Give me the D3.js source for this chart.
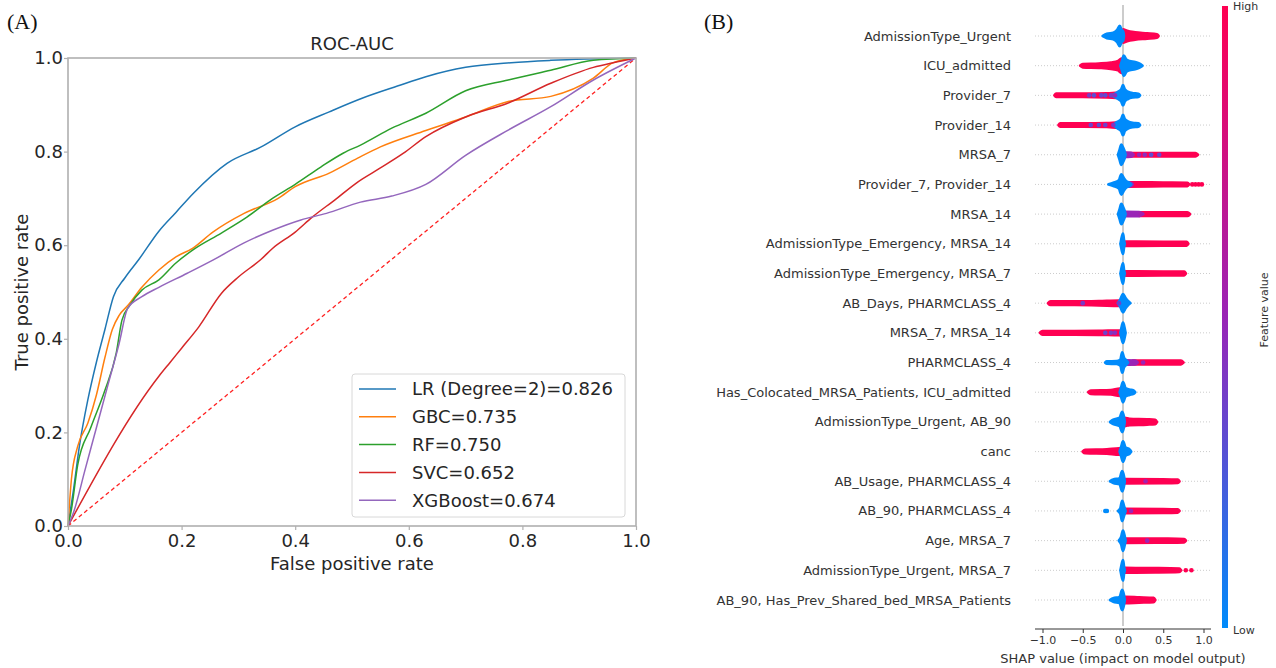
<!DOCTYPE html>
<html>
<head>
<meta charset="utf-8">
<script src="https://cdn.jsdelivr.net/npm/d3@7"></script>
<style>
  body { margin: 0; background: #fff; }
  svg { display: block; font-family: "DejaVu Sans", sans-serif; }
</style>
</head>
<body>
<div id="chart"></div>
<script>
// ---- panel A data: ROC curves [fpr, tpr]
const rocLR = [[0,0],[0.01,0.08],[0.02,0.17],[0.035,0.27],[0.05,0.35],[0.065,0.42],[0.08,0.49],[0.1,0.53],[0.125,0.57],[0.16,0.63],[0.19,0.67],[0.22,0.71],[0.28,0.775],[0.34,0.81],[0.4,0.853],[0.46,0.885],[0.52,0.915],[0.58,0.94],[0.63,0.96],[0.7,0.98],[0.78,0.99],[0.85,0.995],[1,1]]
const rocGBC = [[0,0],[0.006,0.1],[0.017,0.17],[0.035,0.22],[0.05,0.28],[0.065,0.36],[0.078,0.42],[0.09,0.45],[0.106,0.472],[0.13,0.51],[0.16,0.547],[0.19,0.575],[0.22,0.594],[0.255,0.628],[0.31,0.668],[0.37,0.7],[0.4,0.725],[0.46,0.754],[0.51,0.786],[0.55,0.81],[0.63,0.845],[0.7,0.874],[0.775,0.907],[0.85,0.918],[0.925,0.957],[0.96,0.99],[1,1]]
const rocRF = [[0,0],[0.006,0.035],[0.017,0.13],[0.04,0.21],[0.065,0.29],[0.085,0.37],[0.095,0.44],[0.109,0.472],[0.13,0.504],[0.16,0.526],[0.19,0.562],[0.22,0.59],[0.27,0.626],[0.315,0.66],[0.36,0.7],[0.4,0.73],[0.445,0.767],[0.485,0.797],[0.515,0.814],[0.57,0.85],[0.63,0.882],[0.7,0.93],[0.775,0.953],[0.85,0.974],[0.925,0.995],[1,1]]
const rocSVC = [[0,0],[0.16,0.32],[0.18,0.35],[0.2,0.38],[0.23,0.425],[0.27,0.497],[0.3,0.532],[0.34,0.57],[0.36,0.593],[0.4,0.628],[0.43,0.66],[0.47,0.697],[0.51,0.735],[0.55,0.765],[0.59,0.796],[0.63,0.832],[0.7,0.874],[0.775,0.904],[0.85,0.946],[0.925,0.98],[0.96,0.99],[1,1]]
const rocXGB = [[0,0],[0.01,0.03],[0.03,0.12],[0.05,0.21],[0.07,0.3],[0.09,0.39],[0.105,0.465],[0.13,0.49],[0.16,0.51],[0.21,0.54],[0.255,0.568],[0.31,0.605],[0.36,0.632],[0.41,0.654],[0.455,0.668],[0.515,0.692],[0.57,0.705],[0.63,0.73],[0.7,0.792],[0.775,0.846],[0.85,0.896],[0.925,0.953],[1,1]]
const modelNames = ['LR (Degree=2)=0.826', 'GBC=0.735', 'RF=0.750', 'SVC=0.652', 'XGBoost=0.674']
const modelColors = ['#1f77b4', '#ff7f0e', '#2ca02c', '#d62728', '#9467bd']
const rateTicks = [0, 0.2, 0.4, 0.6, 0.8, 1.0]

// ---- panel B data: SHAP summary, one entry per feature
const features = ['AdmissionType_Urgent', 'ICU_admitted', 'Provider_7', 'Provider_14', 'MRSA_7',
  'Provider_7, Provider_14', 'MRSA_14', 'AdmissionType_Emergency, MRSA_14', 'AdmissionType_Emergency, MRSA_7',
  'AB_Days, PHARMCLASS_4', 'MRSA_7, MRSA_14', 'PHARMCLASS_4', 'Has_Colocated_MRSA_Patients, ICU_admitted',
  'AdmissionType_Urgent, AB_90', 'canc', 'AB_Usage, PHARMCLASS_4', 'AB_90, PHARMCLASS_4', 'Age, MRSA_7',
  'AdmissionType_Urgent, MRSA_7', 'AB_90, Has_Prev_Shared_bed_MRSA_Patients']
// [shap value, relative density] for high feature values
const highShape = [
  [[-0.01,0],[0,0.65],[0.05,0.5],[0.15,0.35],[0.3,0.25],[0.42,0.15],[0.44,0]],
  [[-0.53,0],[-0.5,0.15],[-0.3,0.2],[-0.15,0.3],[-0.06,0.45],[-0.02,0.7],[0.01,0.3],[0.02,0]],
  [[-0.85,0],[-0.83,0.15],[-0.5,0.15],[-0.2,0.18],[-0.05,0.25],[0,0.2],[0.01,0]],
  [[-0.8,0],[-0.78,0.15],[-0.5,0.15],[-0.2,0.18],[-0.05,0.25],[0,0.2],[0.01,0]],
  [[0.02,0],[0.03,0.15],[0.5,0.15],[0.9,0.15],[0.93,0]],
  [[0.03,0],[0.05,0.2],[0.5,0.17],[0.8,0.15],[0.82,0]],
  [[0.18,0],[0.2,0.17],[0.8,0.17],[0.83,0]],
  [[0.02,0],[0.03,0.2],[0.5,0.18],[0.79,0.17],[0.81,0]],
  [[0.02,0],[0.03,0.2],[0.5,0.18],[0.76,0.17],[0.78,0]],
  [[-0.93,0],[-0.9,0.17],[-0.6,0.17],[-0.3,0.2],[-0.05,0.25],[0,0.2],[0.01,0]],
  [[-1.03,0],[-1.0,0.17],[-0.6,0.17],[-0.3,0.18],[-0.05,0.22],[0,0.2],[0.01,0]],
  [[0.1,0],[0.12,0.18],[0.72,0.17],[0.75,0]],
  [[-0.43,0],[-0.4,0.15],[-0.15,0.2],[-0.04,0.35],[0,0.3],[0.01,0]],
  [[0,0],[0.02,0.4],[0.08,0.3],[0.3,0.25],[0.4,0.2],[0.42,0]],
  [[-0.5,0],[-0.47,0.15],[-0.2,0.2],[-0.05,0.3],[0,0.3],[0.01,0]],
  [[0,0],[0.02,0.2],[0.5,0.18],[0.68,0.15],[0.7,0]],
  [[0,0],[0.02,0.2],[0.5,0.18],[0.68,0.15],[0.7,0]],
  [[0.02,0],[0.03,0.2],[0.55,0.18],[0.76,0.15],[0.78,0]],
  [[0,0],[0.02,0.22],[0.4,0.2],[0.7,0.15],[0.72,0]],
  [[0,0],[0.02,0.3],[0.2,0.25],[0.38,0.2],[0.4,0]]
]
// [shap value, relative density] for mid feature values
const midShape = [
  [], [], [], [],
  [[0,0],[0.02,0.2],[0.1,0.18],[0.13,0]],
  [[0.03,0],[0.04,0.2],[0.1,0.15],[0.12,0]],
  [[0,0],[0.02,0.2],[0.2,0.18],[0.25,0]],
  [], [], [], [],
  [[0.02,0],[0.03,0.2],[0.15,0.18],[0.18,0]],
  [], [], [], [], [], [], [], []
]
// [shap value, relative density] for low feature values
const lowShape = [
  [[-0.25,0],[-0.2,0.2],[-0.12,0.3],[-0.07,0.6],[-0.04,1.0],[-0.02,0.6],[0,0.45],[0.01,0]],
  [[-0.03,0],[-0.01,0.5],[0.01,1.0],[0.04,0.6],[0.08,0.45],[0.15,0.35],[0.2,0.2],[0.24,0]],
  [[-0.13,0],[-0.07,0.3],[-0.02,0.6],[0,1.0],[0.02,0.6],[0.06,0.35],[0.12,0.2],[0.19,0.15],[0.21,0]],
  [[-0.12,0],[-0.07,0.3],[-0.02,0.6],[0,1.0],[0.02,0.6],[0.06,0.35],[0.12,0.2],[0.19,0.15],[0.21,0]],
  [[-0.06,0],[-0.04,0.5],[-0.02,1.0],[0,0.7],[0.02,0.3],[0.03,0]],
  [[-0.18,0],[-0.12,0.15],[-0.05,0.4],[-0.02,1.0],[0.01,0.6],[0.04,0.3],[0.08,0.15],[0.1,0]],
  [[-0.06,0],[-0.04,0.5],[-0.02,1.0],[0,0.7],[0.02,0.3],[0.03,0]],
  [[-0.03,0],[-0.02,0.4],[0,1.0],[0.01,0.4],[0.02,0]],
  [[-0.03,0],[-0.02,0.4],[0,1.0],[0.01,0.4],[0.02,0]],
  [[-0.06,0],[-0.03,0.4],[0,0.9],[0.03,0.5],[0.06,0.2],[0.09,0]],
  [[-0.03,0],[-0.02,0.4],[0,1.0],[0.02,0.4],[0.03,0]],
  [[-0.22,0],[-0.2,0.1],[-0.08,0.12],[-0.03,0.3],[-0.01,1.0],[0.01,0.5],[0.04,0.2],[0.06,0]],
  [[-0.04,0],[-0.02,0.5],[0,1.0],[0.03,0.4],[0.08,0.25],[0.13,0.15],[0.15,0]],
  [[-0.16,0],[-0.12,0.2],[-0.04,0.4],[-0.01,1.0],[0.01,0.5],[0.02,0]],
  [[-0.04,0],[-0.02,0.5],[0,1.0],[0.03,0.4],[0.08,0.2],[0.1,0]],
  [[-0.16,0],[-0.12,0.15],[-0.04,0.3],[-0.01,1.0],[0.01,0.5],[0.02,0]],
  [[-0.06,0],[-0.03,0.3],[-0.01,1.0],[0.01,0.5],[0.03,0]],
  [[-0.05,0],[-0.02,0.4],[0,1.0],[0.02,0.4],[0.03,0]],
  [[-0.03,0],[-0.02,0.4],[0,1.0],[0.01,0.4],[0.02,0]],
  [[-0.16,0],[-0.12,0.15],[-0.04,0.3],[-0.01,1.0],[0.01,0.5],[0.02,0]]
]
// isolated points: [shap value, feature value]
const loosePoints = [
  [], [],
  [[-0.42,0.4],[-0.36,0.3],[-0.27,0.35],[-0.22,0.3],[-0.15,0.4],[-0.1,0.45]],
  [[-0.4,0.35],[-0.3,0.3],[-0.22,0.35],[-0.12,0.4]],
  [[0.2,0.5],[0.27,0.45],[0.35,0.3],[0.45,0.35]],
  [[0.86,1],[0.9,1],[0.94,1],[0.98,1]],
  [[0.22,0.55]],
  [], [],
  [[-0.5,0.4],[-0.05,0.35]],
  [[-0.22,0.35],[-0.15,0.4],[-0.1,0.45]],
  [[0.25,0.5]],
  [], [], [],
  [[0.28,0.55],[0.55,1],[0.6,1],[0.66,1]],
  [[-0.22,0],[-0.2,0],[0.1,0.5],[0.6,1],[0.65,1]],
  [[0.3,0.5],[0.62,1]],
  [[0.78,1],[0.85,1]],
  []
]
const shapTicks = [-1.0, -0.5, 0.0, 0.5, 1.0]

function draw(){
    const svg = d3.select('#chart').append('svg')
        .attr('width', 1276)
        .attr('height', 668)

    // ================= panel A
    const x = d3.scaleLinear([0, 1], [68, 636])
    const y = d3.scaleLinear([0, 1], [526, 58])
    const a = svg.append('g')

    a.append('text').attr('x', 7).attr('y', 29)
        .style('font-family', '"Liberation Serif", serif').style('font-size', '22px').attr('fill', '#111')
        .text('(A)')

    const xAx = a.append('g').attr('transform', 'translate(0,526)')
        .call(d3.axisBottom(x).tickValues(rateTicks).tickFormat(d3.format('.1f')).tickSize(4).tickPadding(4))
    const yAx = a.append('g').attr('transform', 'translate(68,0)')
        .call(d3.axisLeft(y).tickValues(rateTicks).tickFormat(d3.format('.1f')).tickSize(4).tickPadding(1))
    ;[xAx, yAx].forEach(g => {
        g.select('.domain').remove()
        g.selectAll('line').attr('stroke', '#b0b0b0').attr('stroke-width', 1.2)
        g.selectAll('text').attr('fill', '#262626').style('font-size', '18px').style('font-family', '"DejaVu Sans", sans-serif')
    })

    const line = d3.line().x(d => x(d[0])).y(d => y(d[1])).curve(d3.curveMonotoneX)
    const curves = [rocLR, rocGBC, rocRF, rocSVC, rocXGB]
    a.append('path').datum([[0, 0], [1, 1]])
        .attr('d', d3.line().x(d => x(d[0])).y(d => y(d[1]))).attr('fill', 'none')
        .attr('stroke', '#ff2020').attr('stroke-width', 1.3).attr('stroke-dasharray', '4,3')
    a.selectAll('.roc').data(curves).join('path')
        .attr('class', 'roc')
        .attr('d', line)
        .attr('fill', 'none')
        .attr('stroke', (d, i) => modelColors[i])
        .attr('stroke-width', 1.5)

    a.append('rect').attr('x', 68).attr('y', 58).attr('width', 568).attr('height', 468)
        .attr('fill', 'none').attr('stroke', '#b0b0b0').attr('stroke-width', 1.6)

    a.append('text').attr('x', 352).attr('y', 50).attr('text-anchor', 'middle')
        .style('font-size', '18px').attr('fill', '#262626').text('ROC-AUC')
    a.append('text').attr('x', 352).attr('y', 570).attr('text-anchor', 'middle')
        .style('font-size', '18px').attr('fill', '#262626').text('False positive rate')
    a.append('text').attr('transform', 'translate(28,292) rotate(-90)').attr('text-anchor', 'middle')
        .style('font-size', '18px').attr('fill', '#262626').text('True positive rate')

    // legend
    const lg = a.append('g')
    lg.append('rect').attr('x', 352).attr('y', 374).attr('width', 273).attr('height', 143)
        .attr('rx', 3).attr('fill', '#fff').attr('fill-opacity', 0.85).attr('stroke', '#d8d8d8')
    const items = lg.selectAll('.item').data(modelNames).join('g')
        .attr('transform', (d, i) => `translate(0,${389 + i * 27.8})`)
    items.append('line').attr('x1', 359).attr('x2', 396)
        .attr('stroke', (d, i) => modelColors[i]).attr('stroke-width', 1.5)
    items.append('text').attr('x', 412).attr('dy', '0.35em')
        .style('font-size', '18px').attr('fill', '#262626').text(d => d)

    // ================= panel B
    const b = svg.append('g')
    b.append('text').attr('x', 704).attr('y', 29)
        .style('font-family', '"Liberation Serif", serif').style('font-size', '22px').attr('fill', '#111')
        .text('(B)')

    const sx = d3.scaleLinear([-1, 1], [1042.5, 1203.5])
    const row = d3.scaleLinear([0, features.length - 1], [36, 600])
    const thick = d3.scaleLinear([0, 1], [0, 10])
    // shap red-blue: blue -> purple -> red
    const color = d3.scaleLinear([0, 0.5, 1], ['#008bfb', '#9a24b6', '#ff0052'])

    // dotted row guides
    b.selectAll('.guide').data(features).join('line')
        .attr('x1', 1035).attr('x2', 1211)
        .attr('y1', (d, i) => row(i)).attr('y2', (d, i) => row(i))
        .attr('stroke', '#cccccc').attr('stroke-dasharray', '1,2')

    b.append('line').attr('x1', sx(0)).attr('x2', sx(0)).attr('y1', 5).attr('y2', 626)
        .attr('stroke', '#999').attr('stroke-width', 1)

    b.selectAll('.feat').data(features).join('text')
        .attr('x', 1011).attr('y', (d, i) => row(i)).attr('dy', '0.35em')
        .attr('text-anchor', 'end').style('font-size', '13px').attr('fill', '#333')
        .text(d => d)

    const blob = i => d3.area()
        .x(d => sx(d[0]))
        .y0(d => row(i) - thick(d[1]))
        .y1(d => row(i) + thick(d[1]))
        .curve(d3.curveMonotoneX)

    const layers = [[highShape, 1], [midShape, 0.5], [lowShape, 0]]
    layers.forEach(([shape, fv]) => {
        b.append('g').selectAll('path')
            .data(shape.map((pts, i) => ({ pts, i })).filter(d => d.pts.length))
            .join('path')
            .attr('d', d => blob(d.i)(d.pts))
            .attr('fill', color(fv))
            .attr('stroke', color(fv))
            .attr('stroke-width', 3)
            .attr('stroke-linejoin', 'round')
    })

    b.append('g').selectAll('circle')
        .data(loosePoints.flatMap((pts, i) => pts.map(p => ({ v: p[0], fv: p[1], i }))))
        .join('circle')
        .attr('cx', d => sx(d.v)).attr('cy', d => row(d.i))
        .attr('r', 2.3)
        .attr('fill', d => color(d.fv))

    // x axis
    const sAx = b.append('g').attr('transform', 'translate(0,629)')
        .call(d3.axisBottom(sx).tickValues(shapTicks).tickFormat(d3.format('.1f')).tickSize(4).tickPadding(3))
    sAx.select('.domain').remove()
    sAx.selectAll('line').attr('stroke', '#333')
    sAx.selectAll('text').attr('fill', '#333').style('font-size', '11px').style('font-family', '"DejaVu Sans", sans-serif')
    b.append('line').attr('x1', 1035).attr('x2', 1211).attr('y1', 629).attr('y2', 629)
        .attr('stroke', '#333').attr('stroke-width', 1)
    b.append('text').attr('x', 1123).attr('y', 663).attr('text-anchor', 'middle')
        .style('font-size', '13px').attr('fill', '#333').text('SHAP value (impact on model output)')

    // colour bar
    const grad = svg.append('defs').append('linearGradient')
        .attr('id', 'fvGrad').attr('x1', 0).attr('x2', 0).attr('y1', 1).attr('y2', 0)
    grad.selectAll('stop').data(d3.range(0, 1.01, 0.1)).join('stop')
        .attr('offset', d => d).attr('stop-color', d => color(d))
    b.append('rect').attr('x', 1222).attr('y', 6).attr('width', 6).attr('height', 622)
        .attr('fill', 'url(#fvGrad)')
    b.append('text').attr('x', 1233).attr('y', 10).style('font-size', '11px').attr('fill', '#333').text('High')
    b.append('text').attr('x', 1233).attr('y', 634).style('font-size', '11px').attr('fill', '#333').text('Low')
    b.append('text').attr('transform', 'translate(1268,310) rotate(-90)').attr('text-anchor', 'middle')
        .style('font-size', '11px').attr('fill', '#333').text('Feature value')
}

draw()
</script>
</body>
</html>
